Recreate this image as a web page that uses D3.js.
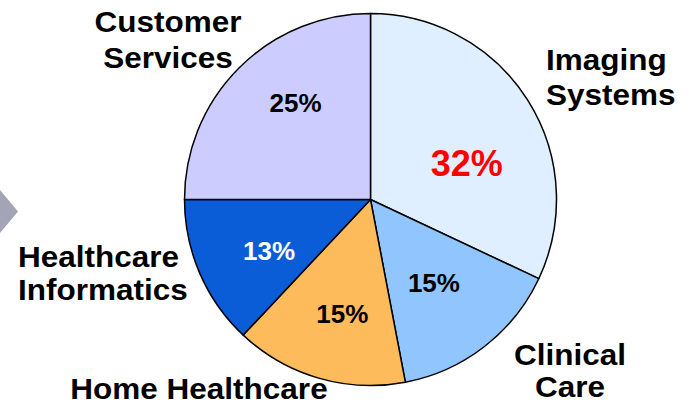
<!DOCTYPE html>
<html>
<head>
<meta charset="utf-8">
<script src="https://cdn.jsdelivr.net/npm/d3@7"></script>
<style>
  html, body { margin: 0; padding: 0; background: #fff; }
  svg { display: block; }
  text { font-family: "Liberation Sans", Arial, sans-serif; font-weight: bold; }
</style>
</head>
<body>
<svg id="chart" width="689" height="406"></svg>
<script>
// Business segments and their revenue share (%)
const segments = ["Imaging Systems", "Clinical Care", "Home Healthcare", "Healthcare Informatics", "Customer Services"];
const shares = [32, 15, 15, 13, 25];
const shareLabels = ["32%", "15%", "15%", "13%", "25%"];

// Appearance
const sliceColors = ["#DFEFFF", "#91C5FD", "#FDBB5B", "#0B5DD7", "#CCCCFF"];
const pctColors = ["#FF0000", "#000000", "#000000", "#FFFFFF", "#000000"];
const pctSizes = [36, 26, 26, 26, 26];
// small offsets of the share labels from the slice centroids
const pctNudge = [[2, 23], [-5, -5], [3, 7], [1, 7], [4, -18]];

// Segment name placement: anchor, x, baselines per line
const nameLayout = [
  { anchor: "start",  x: 546, lines: ["Imaging", "Systems"], ys: [70, 105] },
  { anchor: "middle", x: 570, lines: ["Clinical", "Care"], ys: [365, 397] },
  { anchor: "middle", x: 199, lines: ["Home Healthcare"], ys: [398.5] },
  { anchor: "start",  x: 18,  lines: ["Healthcare", "Informatics"], ys: [267, 300] },
  { anchor: "middle", x: 168, lines: ["Customer", "Services"], ys: [32, 68] }
];
const nameSize = 30;
const nameStretch = 1.05;

const svg = d3.select("#chart");
const cx = 370.5, cy = 199.5, R = 186;

// Decorative chevron at the left edge
svg.append("path")
  .attr("d", d3.line()([[0, 190], [18, 211.5], [0, 233]]) + "Z")
  .attr("fill", "#A4A4B7");

const pie = d3.pie().sort(null).value(d => d)(shares);
const arc = d3.arc().innerRadius(0).outerRadius(R);
const labelArc = d3.arc().innerRadius(R * 0.6).outerRadius(R * 0.6);

const g = svg.append("g").attr("transform", `translate(${cx},${cy})`);

g.selectAll("path.slice")
  .data(pie)
  .join("path")
  .attr("class", "slice")
  .attr("d", arc)
  .attr("fill", (d, i) => sliceColors[i])
  .attr("stroke", "#000")
  .attr("stroke-width", 1.5)
  .attr("stroke-linejoin", "round");

g.selectAll("text.pct")
  .data(pie)
  .join("text")
  .attr("class", "pct")
  .attr("transform", (d, i) => {
    const [x, y] = labelArc.centroid(d);
    return `translate(${x + pctNudge[i][0]},${y + pctNudge[i][1]})`;
  })
  .attr("text-anchor", "middle")
  .attr("dy", "0.36em")
  .attr("fill", (d, i) => pctColors[i])
  .attr("font-size", (d, i) => pctSizes[i])
  .text((d, i) => shareLabels[i]);

// Segment names
nameLayout.forEach((lay, i) => {
  lay.lines.forEach((line, j) => {
    svg.append("g")
      .attr("transform", `translate(${lay.x},${lay.ys[j]}) scale(${nameStretch},1)`)
      .append("text")
      .attr("text-anchor", lay.anchor)
      .attr("font-size", nameSize)
      .attr("fill", "#000")
      .text(line);
  });
});
</script>
</body>
</html>
